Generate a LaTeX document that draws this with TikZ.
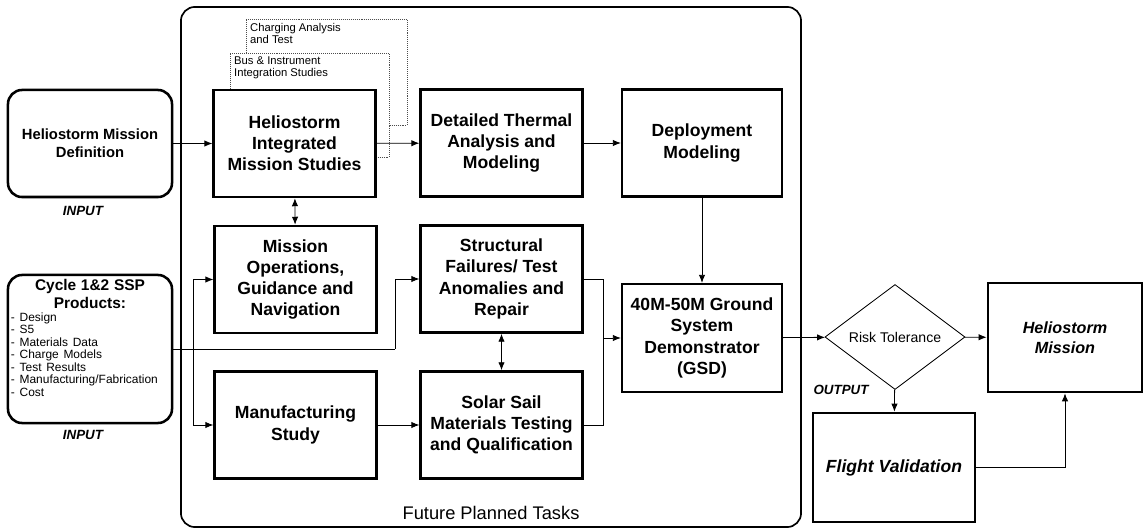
\documentclass[tikz,border=0pt]{standalone}
\usepackage{fontspec}
\setmainfont{Liberation Sans}
\usetikzlibrary{arrows.meta,shapes.geometric}

\begin{document}
\begin{tikzpicture}
[x=0.025cm,y=-0.025cm,
 >={Latex[length=2mm,width=1.6mm]},
 task/.style={draw,line width=1.6pt,fill=white,align=center,inner sep=2pt,
   minimum width=4.05cm,minimum height=2.68cm,
   font=\bfseries\fontsize{12.5}{15}\selectfont},
 src/.style={draw,line width=1.8pt,rounded corners=10pt,fill=white,
   minimum width=4.1cm,inner sep=2pt},
 ghost/.style={draw=black!70,densely dotted,fill=white},
 ghosttxt/.style={anchor=north west,align=left,inner sep=3pt,
   font=\fontsize{8}{8.5}\selectfont},
 tag/.style={font=\bfseries\itshape\fontsize{9.5}{11}\selectfont},
 goal/.style={draw,line width=2pt,fill=white,align=center,
   minimum height=2.72cm,font=\bfseries\itshape\fontsize{11.5}{14}\selectfont},
 link/.style={line width=0.6pt}]
\useasboundingbox (0,0) rectangle (1146,531);
\node[draw,line width=1.2pt,rounded corners=0.35cm,minimum width=15.5cm,
  minimum height=13cm] (frame) at (491,267) {};
\node[font=\fontsize{13}{15}\selectfont] (frametxt) at (491,513) {Future Planned Tasks};
\node[ghost,minimum width=4.025cm,minimum height=2.65cm] (charge) at (326.5,72) {};
\node[ghosttxt] (chargetxt) at (charge.north west) {Charging Analysis\\and Test};
\node[ghost,minimum width=3.975cm,minimum height=2.6cm] (bus) at (309.5,105) {};
\node[ghosttxt] (bustxt) at (bus.north west) {Bus \& Instrument\\Integration Studies};
\node[src,align=center,minimum height=2.675cm,
  font=\bfseries\fontsize{10.5}{12.5}\selectfont] (hmd) at (90,143.5)
  {Heliostorm Mission\\Definition};
\node[tag] (in1) at (83,211) {INPUT};
\node[src,minimum height=3.7cm,text width=3.95cm,align=left] (ssp) at (90,349)
  {{\centering\bfseries\fontsize{11}{13}\selectfont Cycle 1\&2 SSP\\Products:\par}
   {\fontsize{8.5}{8.9}\selectfont - Design\\- S5\\- Materials Data\\- Charge Models\\
   - Test Results\\- Manufacturing/Fabrication\\- Cost\par}\vspace{4pt}\mbox{}};
\node[tag] (in2) at (83,435) {INPUT};
\node[task] (hims) at (294.5,143.5) {Heliostorm\\Integrated\\Mission Studies};
\node[task] (dtam) at (501.5,143) {Detailed Thermal\\Analysis and\\Modeling};
\node[task,minimum width=4cm] (deploy) at (702,143) {Deployment\\Modeling};
\node[task] (mogn) at (295.5,279.5) {Mission\\Operations,\\Guidance and\\Navigation};
\node[task] (sfta) at (501.5,279) {Structural\\Failures/ Test\\Anomalies and\\Repair};
\node[task] (manuf) at (295.5,425) {Manufacturing\\Study};
\node[task] (solar) at (501.5,425) {Solar Sail\\Materials Testing\\and Qualification};
\node[task,minimum width=4cm,minimum height=2.7cm] (gsd) at (702,338)
  {40M-50M Ground\\System\\Demonstrator\\(GSD)};
\node[draw,diamond,aspect=1.4,line width=0.6pt,inner sep=0pt,minimum width=3.5cm,
  minimum height=2.625cm,font=\fontsize{10}{12}\selectfont] (risk) at (895,337) {Risk Tolerance};
\node[goal,minimum width=3.85cm] (hm) at (1065,337.5) {Heliostorm\\Mission};
\node[goal,minimum width=4.05cm,font=\bfseries\itshape\fontsize{12.5}{15}\selectfont]
  (fv) at (894,467.5) {Flight Validation};
\node[tag] (out) at (841,390) {OUTPUT};
\coordinate (split) at (193,0);
\coordinate (bend) at (395,0);
\coordinate (merge) at (603,0);
\foreach \from/\to in {hmd/hims,hims/dtam,dtam/deploy,manuf/solar,deploy/gsd,gsd/risk,risk/hm,risk/fv}
\draw[link,->] (\from) -- (\to);
\foreach \from/\to in {hims/mogn,sfta/solar}
\draw[link,<->] (\from) -- (\to);
\draw[link] (ssp.east) -- (ssp.east -| bend);
\draw[link,->] (ssp.east -| bend) |- (sfta.west);
\draw[link,->] (ssp.east -| split) |- (mogn.west);
\draw[link,->] (ssp.east -| split) |- (manuf.west);
\draw[link] (sfta.east) -- (sfta.east -| merge) -- (solar.east -| merge) -- (solar.east);
\draw[link,->] (gsd.west -| merge) -- (gsd.west);
\draw[link,->] (fv.east) -| (hm.south);
\end{tikzpicture}
\end{document}
